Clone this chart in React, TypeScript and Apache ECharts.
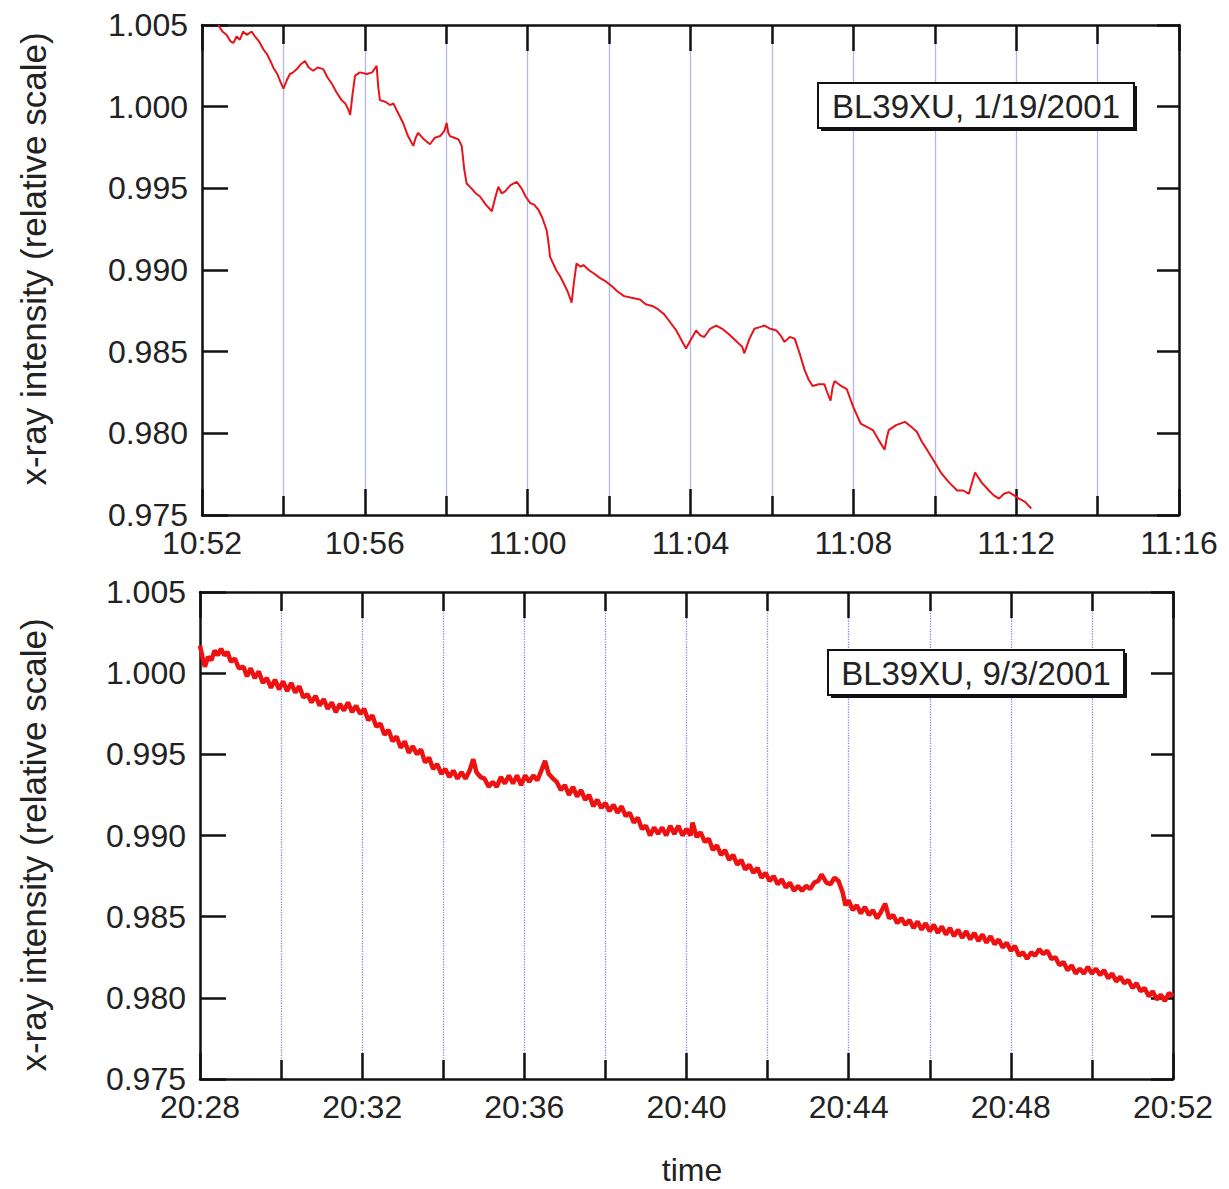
import React, { useEffect, useRef } from "react";
import * as echarts from "echarts";

// ---- data (minutes of the day, relative intensity) ----
const topTimes = [
  652.40, 652.50, 652.60, 652.70, 652.77, 652.85, 652.93, 653.01, 653.10, 653.22, 653.30, 653.40, 653.51, 653.60, 653.68, 653.75,
  653.85, 653.93, 654.00, 654.08, 654.16, 654.24, 654.33, 654.43, 654.53, 654.62, 654.73, 654.84, 654.98, 655.08, 655.19, 655.30,
  655.43, 655.52, 655.60, 655.64, 655.70, 655.76, 655.88, 656.05, 656.18, 656.29, 656.33, 656.37, 656.50, 656.62, 656.70, 656.82,
  656.94, 657.06, 657.19, 657.25, 657.31, 657.45, 657.60, 657.72, 657.85, 657.95, 658.01, 658.05, 658.09, 658.20, 658.30, 658.38,
  658.44, 658.50, 658.62, 658.72, 658.83, 658.97, 659.12, 659.20, 659.28, 659.36, 659.44, 659.58, 659.73, 659.85, 659.95, 660.06,
  660.16, 660.26, 660.36, 660.47, 660.52, 660.55, 660.70, 660.80, 660.88, 660.98, 661.08, 661.14, 661.20, 661.30, 661.37, 661.50,
  661.62, 661.78, 661.92, 662.07, 662.20, 662.37, 662.55, 662.76, 662.90, 663.06, 663.20, 663.35, 663.50, 663.65, 663.78, 663.89,
  664.00, 664.14, 664.24, 664.34, 664.48, 664.63, 664.78, 664.93, 665.10, 665.27, 665.32, 665.45, 665.57, 665.70, 665.82, 665.96,
  666.11, 666.21, 666.31, 666.44, 666.56, 666.68, 666.80, 666.90, 667.00, 667.15, 667.29, 667.36, 667.44, 667.49, 667.54, 667.70,
  667.84, 668.00, 668.18, 668.33, 668.48, 668.62, 668.77, 668.82, 668.87, 669.05, 669.27, 669.42, 669.56, 669.68, 669.81, 669.98,
  670.15, 670.35, 670.55, 670.70, 670.84, 670.92, 670.99, 671.15, 671.33, 671.45, 671.58, 671.70, 671.82, 671.95, 672.07, 672.22,
  672.37,
];
const topValues = [
  1.0050, 1.0046, 1.0044, 1.0040, 1.0039, 1.0043, 1.0041, 1.0046, 1.0044, 1.0046, 1.0043, 1.0040, 1.0035, 1.0032, 1.0028, 1.0024,
  1.0020, 1.0015, 1.0011, 1.0016, 1.0020, 1.0021, 1.0023, 1.0026, 1.0028, 1.0024, 1.0022, 1.0024, 1.0023, 1.0018, 1.0014, 1.0009,
  1.0004, 1.0002, 0.9998, 0.9995, 1.0008, 1.0019, 1.0021, 1.0020, 1.0021, 1.0025, 1.0012, 1.0004, 1.0003, 1.0001, 1.0002, 0.9996,
  0.9990, 0.9982, 0.9976, 0.9981, 0.9984, 0.9980, 0.9977, 0.9981, 0.9982, 0.9985, 0.9990, 0.9984, 0.9982, 0.9981, 0.9980, 0.9976,
  0.9962, 0.9953, 0.9950, 0.9947, 0.9945, 0.9940, 0.9936, 0.9944, 0.9951, 0.9947, 0.9948, 0.9952, 0.9954, 0.9950, 0.9945, 0.9941,
  0.9940, 0.9937, 0.9932, 0.9924, 0.9915, 0.9908, 0.9900, 0.9896, 0.9892, 0.9887, 0.9880, 0.9893, 0.9904, 0.9902, 0.9903, 0.9900,
  0.9898, 0.9895, 0.9893, 0.9890, 0.9887, 0.9884, 0.9883, 0.9882, 0.9879, 0.9878, 0.9876, 0.9873, 0.9868, 0.9863, 0.9857, 0.9852,
  0.9857, 0.9863, 0.9860, 0.9859, 0.9864, 0.9866, 0.9864, 0.9861, 0.9857, 0.9853, 0.9849, 0.9858, 0.9864, 0.9865, 0.9866, 0.9864,
  0.9863, 0.9860, 0.9856, 0.9859, 0.9858, 0.9849, 0.9839, 0.9833, 0.9829, 0.9830, 0.9830, 0.9825, 0.9820, 0.9828, 0.9832, 0.9829,
  0.9827, 0.9816, 0.9806, 0.9804, 0.9802, 0.9796, 0.9790, 0.9797, 0.9802, 0.9805, 0.9807, 0.9804, 0.9801, 0.9795, 0.9790, 0.9783,
  0.9776, 0.9770, 0.9765, 0.9765, 0.9763, 0.9770, 0.9776, 0.9770, 0.9765, 0.9762, 0.9760, 0.9763, 0.9764, 0.9762, 0.9760, 0.9758,
  0.9754,
];

const bottomTimes = [
  1228.00, 1228.06, 1228.12, 1228.20, 1228.28, 1228.36, 1228.44, 1228.52, 1228.60, 1228.68, 1228.76, 1228.86, 1228.96, 1229.07, 1229.16, 1229.25,
  1229.35, 1229.45, 1229.55, 1229.65, 1229.75, 1229.85, 1229.95, 1230.05, 1230.15, 1230.25, 1230.35, 1230.45, 1230.55, 1230.65, 1230.75, 1230.85,
  1230.95, 1231.05, 1231.15, 1231.25, 1231.35, 1231.45, 1231.55, 1231.65, 1231.75, 1231.85, 1231.95, 1232.05, 1232.15, 1232.25, 1232.35, 1232.45,
  1232.55, 1232.65, 1232.75, 1232.85, 1232.95, 1233.05, 1233.15, 1233.25, 1233.35, 1233.45, 1233.55, 1233.65, 1233.75, 1233.85, 1233.95, 1234.05,
  1234.15, 1234.25, 1234.35, 1234.45, 1234.55, 1234.65, 1234.74, 1234.82, 1234.92, 1235.02, 1235.12, 1235.22, 1235.32, 1235.42, 1235.52, 1235.62,
  1235.72, 1235.82, 1235.92, 1236.02, 1236.12, 1236.22, 1236.32, 1236.42, 1236.51, 1236.60, 1236.71, 1236.80, 1236.90, 1237.00, 1237.10, 1237.20,
  1237.30, 1237.40, 1237.50, 1237.60, 1237.70, 1237.80, 1237.90, 1238.00, 1238.10, 1238.20, 1238.30, 1238.40, 1238.50, 1238.60, 1238.70, 1238.80,
  1238.90, 1239.00, 1239.10, 1239.20, 1239.30, 1239.40, 1239.50, 1239.60, 1239.70, 1239.80, 1239.90, 1240.00, 1240.10, 1240.15, 1240.25, 1240.35,
  1240.45, 1240.55, 1240.65, 1240.75, 1240.85, 1240.95, 1241.05, 1241.15, 1241.25, 1241.35, 1241.45, 1241.55, 1241.65, 1241.75, 1241.85, 1241.95,
  1242.05, 1242.15, 1242.25, 1242.35, 1242.45, 1242.55, 1242.65, 1242.75, 1242.85, 1242.95, 1243.05, 1243.15, 1243.25, 1243.33, 1243.45, 1243.55,
  1243.65, 1243.75, 1243.85, 1243.92, 1244.00, 1244.10, 1244.20, 1244.30, 1244.40, 1244.50, 1244.60, 1244.70, 1244.80, 1244.90, 1245.00, 1245.10,
  1245.20, 1245.30, 1245.40, 1245.50, 1245.60, 1245.70, 1245.80, 1245.90, 1246.00, 1246.10, 1246.20, 1246.30, 1246.40, 1246.50, 1246.60, 1246.70,
  1246.80, 1246.90, 1247.00, 1247.10, 1247.20, 1247.30, 1247.40, 1247.50, 1247.60, 1247.70, 1247.80, 1247.90, 1248.00, 1248.10, 1248.20, 1248.30,
  1248.40, 1248.50, 1248.60, 1248.70, 1248.80, 1248.90, 1249.00, 1249.10, 1249.20, 1249.30, 1249.40, 1249.50, 1249.60, 1249.70, 1249.80, 1249.90,
  1250.00, 1250.10, 1250.20, 1250.30, 1250.40, 1250.50, 1250.60, 1250.70, 1250.80, 1250.90, 1251.00, 1251.10, 1251.20, 1251.30, 1251.40, 1251.50,
  1251.60, 1251.70, 1251.80, 1251.90, 1252.00,
];
const bottomValues = [
  1.0017, 1.0010, 1.0004, 1.0010, 1.0008, 1.0014, 1.0011, 1.0015, 1.0011, 1.0013, 1.0007, 1.0009, 1.0003, 1.0004, 0.9998, 1.0003,
  0.9997, 1.0001, 0.9994, 0.9997, 0.9991, 0.9996, 0.9990, 0.9995, 0.9989, 0.9994, 0.9988, 0.9992, 0.9985, 0.9987, 0.9982, 0.9986,
  0.9980, 0.9984, 0.9978, 0.9982, 0.9976, 0.9981, 0.9977, 0.9982, 0.9976, 0.9980, 0.9975, 0.9978, 0.9971, 0.9974, 0.9967, 0.9969,
  0.9962, 0.9965, 0.9958, 0.9961, 0.9954, 0.9958, 0.9951, 0.9955, 0.9950, 0.9953, 0.9945, 0.9948, 0.9941, 0.9944, 0.9938, 0.9941,
  0.9936, 0.9940, 0.9935, 0.9939, 0.9935, 0.9940, 0.9947, 0.9939, 0.9936, 0.9935, 0.9930, 0.9933, 0.9930, 0.9936, 0.9932, 0.9937,
  0.9932, 0.9937, 0.9931, 0.9937, 0.9933, 0.9937, 0.9934, 0.9940, 0.9946, 0.9938, 0.9935, 0.9933, 0.9928, 0.9931, 0.9925, 0.9930,
  0.9924, 0.9928, 0.9922, 0.9925, 0.9918, 0.9922, 0.9917, 0.9920, 0.9915, 0.9919, 0.9914, 0.9918, 0.9912, 0.9914, 0.9908, 0.9911,
  0.9904, 0.9906, 0.9900, 0.9905, 0.9901, 0.9905, 0.9900, 0.9906, 0.9901, 0.9906, 0.9900, 0.9904, 0.9900, 0.9908, 0.9899, 0.9902,
  0.9896, 0.9898, 0.9891, 0.9894, 0.9888, 0.9891, 0.9885, 0.9888, 0.9882, 0.9885, 0.9879, 0.9882, 0.9877, 0.9880, 0.9874, 0.9877,
  0.9872, 0.9875, 0.9870, 0.9873, 0.9868, 0.9871, 0.9866, 0.9869, 0.9866, 0.9869, 0.9867, 0.9871, 0.9872, 0.9876, 0.9871, 0.9870,
  0.9874, 0.9872, 0.9865, 0.9857, 0.9860, 0.9854, 0.9857, 0.9852, 0.9856, 0.9851, 0.9854, 0.9849, 0.9853, 0.9858, 0.9849, 0.9851,
  0.9846, 0.9849, 0.9845, 0.9848, 0.9843, 0.9847, 0.9842, 0.9846, 0.9841, 0.9845, 0.9840, 0.9844, 0.9839, 0.9843, 0.9838, 0.9842,
  0.9837, 0.9841, 0.9836, 0.9840, 0.9835, 0.9839, 0.9834, 0.9838, 0.9833, 0.9836, 0.9831, 0.9834, 0.9829, 0.9832, 0.9826, 0.9828,
  0.9824, 0.9828, 0.9826, 0.9830, 0.9827, 0.9829, 0.9824, 0.9825, 0.9820, 0.9822, 0.9817, 0.9820, 0.9815, 0.9818, 0.9815, 0.9819,
  0.9815, 0.9818, 0.9814, 0.9817, 0.9812, 0.9815, 0.9810, 0.9813, 0.9809, 0.9811, 0.9806, 0.9809, 0.9804, 0.9806, 0.9801, 0.9804,
  0.9799, 0.9802, 0.9798, 0.9803, 0.9801,
];

const topRange = { min: 652, max: 676 }; // 10:52 - 11:16
const bottomRange = { min: 1228, max: 1252 }; // 20:28 - 20:52
const yRange = { min: 0.975, max: 1.005, interval: 0.005 };
const topLabel = "BL39XU, 1/19/2001";
const bottomLabel = "BL39XU, 9/3/2001";
const yName = "x-ray intensity (relative scale)";
const xName = "time";

const FONT = "'Liberation Sans', Arial, Helvetica, sans-serif";
const TEXT_COLOR = "#222";

const fmtTime = (v: number) => {
  const h = Math.floor(v / 60);
  const m = Math.round(v - h * 60);
  return `${h}:${String(m).padStart(2, "0")}`;
};

function xAxes(gridIndex: number, range: { min: number; max: number }, gridColor: string, gridType: string) {
  const common = {
    type: "value",
    gridIndex,
    min: range.min,
    max: range.max,
    interval: 4,
    axisLine: { show: true, lineStyle: { color: "#111", width: 2.5 } },
    axisTick: { show: true, inside: true, length: 26, lineStyle: { color: "#111", width: 2.5 } },
    minorTick: { show: true, splitNumber: 2, length: 19, lineStyle: { color: "#111", width: 2.5 } },
  };
  return [
    {
      ...common,
      position: "bottom",
      axisLabel: {
        show: true,
        margin: 12,
        fontSize: 32,
        color: TEXT_COLOR,
        fontFamily: FONT,
        formatter: (v: number) => fmtTime(v),
      },
      splitLine: { show: true, lineStyle: { color: gridColor, width: 1.3, type: gridType } },
      minorSplitLine: { show: true, lineStyle: { color: gridColor, width: 1.3, type: gridType } },
    },
    {
      ...common,
      position: "top",
      axisLabel: { show: false },
      splitLine: { show: false },
      minorSplitLine: { show: false },
    },
  ];
}

function yAxes(gridIndex: number) {
  const common = {
    type: "value",
    gridIndex,
    min: yRange.min,
    max: yRange.max,
    interval: yRange.interval,
    splitLine: { show: false },
    axisLine: { show: true, lineStyle: { color: "#111", width: 2.5 } },
  };
  return [
    {
      ...common,
      position: "left",
      axisTick: { show: true, inside: true, length: 26, lineStyle: { color: "#111", width: 2.5 } },
      axisLabel: {
        show: true,
        margin: 14,
        fontSize: 32,
        color: TEXT_COLOR,
        fontFamily: FONT,
        formatter: (v: number) => v.toFixed(3),
      },
    },
    {
      ...common,
      position: "right",
      axisTick: { show: true, inside: true, length: 22, lineStyle: { color: "#111", width: 2.5 } },
      axisLabel: { show: false },
    },
  ];
}

function labelBox(x: number, y: number, w: number, h: number, text: string) {
  return [
    { type: "rect", shape: { x: x + 3, y: y + 3, width: w, height: h }, style: { fill: "#111" }, z: 100 },
    { type: "rect", shape: { x, y, width: w, height: h }, style: { fill: "#fff", stroke: "#111", lineWidth: 2 }, z: 101 },
    {
      type: "text",
      x: x + w / 2,
      y: y + h / 2 + 1,
      z: 102,
      style: { text, fontSize: 33, fontFamily: FONT, fill: TEXT_COLOR, textAlign: "center", textVerticalAlign: "middle" },
    },
  ];
}

export default function App() {
  const ref = useRef<HTMLDivElement>(null);
  useEffect(() => {
    if (!ref.current) return;
    const chart = echarts.init(ref.current, undefined, { renderer: "svg" });
    const topData = topTimes.map((t, i) => [t, topValues[i]]);
    const bottomData = bottomTimes.map((t, i) => [t, bottomValues[i]]);
    chart.setOption({
      animation: false,
      backgroundColor: "#ffffff",
      grid: [
        { left: 202, top: 25, width: 977, height: 490, containLabel: false },
        { left: 200, top: 592, width: 973, height: 487, containLabel: false },
      ],
      xAxis: [
        ...xAxes(0, topRange, "#b4b8ea", "solid"),
        ...xAxes(1, bottomRange, "#8a8ae6", "dotted"),
      ],
      yAxis: [...yAxes(0), ...yAxes(1)],
      series: [
        {
          type: "line",
          xAxisIndex: 0,
          yAxisIndex: 0,
          data: topData,
          showSymbol: false,
          symbol: "none",
          lineStyle: { color: "#e8141c", width: 2 },
          z: 5,
        },
        {
          type: "line",
          xAxisIndex: 2,
          yAxisIndex: 2,
          data: bottomData,
          showSymbol: false,
          symbol: "none",
          lineStyle: { color: "#ee1111", width: 4.5 },
          z: 5,
        },
      ],
      graphic: [
        ...labelBox(818, 83, 316, 45, topLabel),
        ...labelBox(828, 650, 296, 45, bottomLabel),
        {
          type: "text",
          x: 33,
          y: 259,
          rotation: Math.PI / 2,
          style: { text: yName, fontSize: 35, fontFamily: FONT, fill: TEXT_COLOR, textAlign: "center", textVerticalAlign: "middle" },
        },
        {
          type: "text",
          x: 33,
          y: 845,
          rotation: Math.PI / 2,
          style: { text: yName, fontSize: 35, fontFamily: FONT, fill: TEXT_COLOR, textAlign: "center", textVerticalAlign: "middle" },
        },
        {
          type: "text",
          x: 692,
          y: 1170,
          style: { text: xName, fontSize: 32, fontFamily: FONT, fill: TEXT_COLOR, textAlign: "center", textVerticalAlign: "middle" },
        },
      ],
    });
    return () => chart.dispose();
  }, []);
  return (
    <div
      ref={ref}
      style={{ position: "absolute", left: 0, top: 0, width: 1229, height: 1189, background: "#fff" }}
    />
  );
}
